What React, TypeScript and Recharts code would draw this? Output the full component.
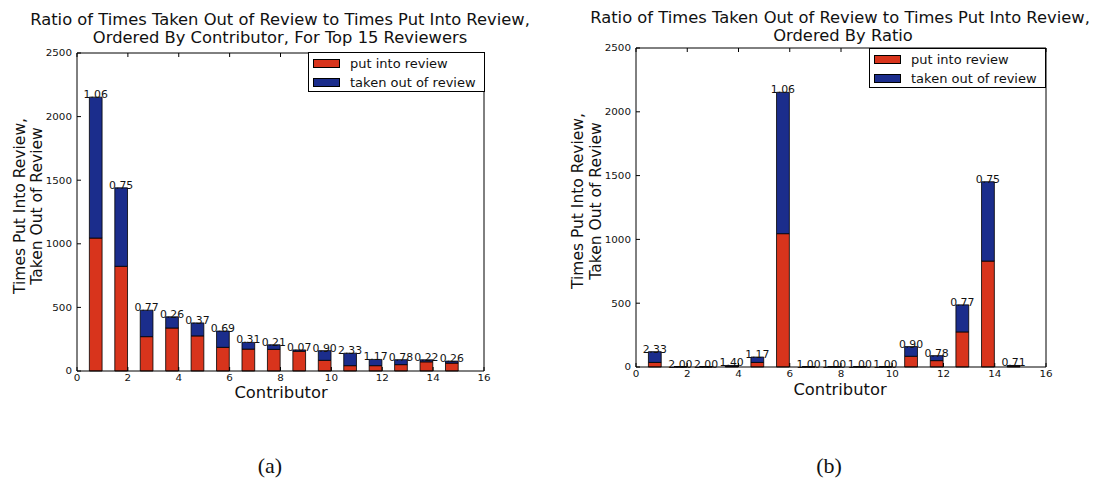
import React from 'react';
import { BarChart, Bar, XAxis, YAxis, LabelList, Legend } from 'recharts';

// Contributor index along the x axis (1..15)
const contributors = [1, 2, 3, 4, 5, 6, 7, 8, 9, 10, 11, 12, 13, 14, 15];

// (a) ordered by contributor, top 15 reviewers
const putIntoReviewA = [1045, 823, 270, 338, 276, 186, 172, 170, 155, 84, 42, 42, 50, 72, 62];
const takenOutOfReviewA = [1108, 617, 208, 88, 102, 128, 53, 36, 11, 76, 98, 49, 39, 16, 16];

// (b) ordered by ratio
const putIntoReviewB = [36, 1, 1, 5, 36, 1045, 1, 1, 1, 1, 84, 50, 275, 830, 7];
const takenOutOfReviewB = [84, 2, 2, 7, 42, 1108, 1, 1, 1, 1, 76, 39, 212, 622, 5];

const xTicks = [0, 2, 4, 6, 8, 10, 12, 14, 16];
const yTicks = [0, 500, 1000, 1500, 2000, 2500];

const seriesNames = ['put into review', 'taken out of review'];
const titleA = ['Ratio of Times Taken Out of Review to Times Put Into Review,', 'Ordered By Contributor, For Top 15 Reviewers'];
const titleB = ['Ratio of Times Taken Out of Review to Times Put Into Review,', 'Ordered By Ratio'];
const yLabelLines = ['Times Put Into Review,', 'Taken Out of Review'];
const xLabel = 'Contributor';
const captions = ['(a)', '(b)'];

const RED = '#d8341c';
const BLUE = '#1b2d8c';
const INK = '#111';
const FONT = '"DejaVu Sans", Verdana, sans-serif';
const SERIF = '"Liberation Serif", "DejaVu Serif", serif';
const TICK_LEN = 4;
const STRETCH = 1.09;

// Bars span [i - 0.5, i] on the contributor axis, so their centre sits at i - 0.25
function buildRows(put: number[], taken: number[]) {
  return contributors.map((c, i) => ({
    pos: c - 0.25,
    put: put[i],
    taken: taken[i],
    ratio: (taken[i] / put[i]).toFixed(2),
  }));
}

// Text drawn slightly wider than the font's natural width
function WideText({ x, y, size, children }: { x: number; y: number; size: number; children: React.ReactNode }) {
  return (
    <text transform={`translate(${x} ${y}) scale(${STRETCH} 1)`} x={0} y={0} textAnchor="middle" fontSize={size}>
      {children}
    </text>
  );
}

const BottomTick = (props: any) => {
  const { x, y, payload } = props;
  const axisY = y - 2;
  return (
    <g>
      <line x1={x} x2={x} y1={axisY} y2={axisY - TICK_LEN} stroke="#000" strokeWidth={1} />
      <text
        transform={`translate(${x} ${y + 8}) scale(${STRETCH} 1)`}
        textAnchor="middle"
        fontSize={9.5}
        fontFamily={FONT}
        fill={INK}
      >
        {payload.value}
      </text>
    </g>
  );
};

const LeftTick = (props: any) => {
  const { x, y, payload } = props;
  const axisX = x + 5;
  return (
    <g>
      <line x1={axisX} x2={axisX + TICK_LEN} y1={y} y2={y} stroke="#000" strokeWidth={1} />
      <text
        transform={`translate(${x} ${y + 3.3}) scale(${STRETCH} 1)`}
        textAnchor="end"
        fontSize={9.5}
        fontFamily={FONT}
        fill={INK}
      >
        {payload.value}
      </text>
    </g>
  );
};

const TopTick = (props: any) => {
  const { x, y } = props;
  return <line x1={x} x2={x} y1={y} y2={y + TICK_LEN} stroke="#000" strokeWidth={1} />;
};

const RightTick = (props: any) => {
  const { x, y } = props;
  return <line x1={x} x2={x - TICK_LEN} y1={y} y2={y} stroke="#000" strokeWidth={1} />;
};

const RatioLabel = (props: any) => {
  const { x, y, width, value } = props;
  const cx = Number(x) + Number(width) / 2;
  const cy = Number(y) + 1;
  return (
    <text
      transform={`translate(${cx} ${cy}) scale(${STRETCH} 1)`}
      textAnchor="middle"
      fontSize={10}
      fontFamily={FONT}
      fill={INK}
    >
      {value}
    </text>
  );
};

const LegendBox = (props: any) => {
  const items = (props.payload || []) as any[];
  return (
    <div
      style={{
        width: 177,
        height: 40,
        boxSizing: 'border-box',
        border: '1px solid #000',
        background: '#fff',
        paddingTop: 1,
        paddingLeft: 4,
        fontFamily: FONT,
        fontSize: 13,
        color: INK,
      }}
    >
      {items.map((it) => (
        <div key={it.value} style={{ display: 'flex', alignItems: 'center', height: 19, whiteSpace: 'nowrap' }}>
          <span
            style={{
              display: 'inline-block',
              flex: 'none',
              width: 27,
              height: 9,
              boxSizing: 'border-box',
              background: it.color,
              border: '1px solid #000',
              marginRight: 10,
            }}
          />
          <span>{it.value}</span>
        </div>
      ))}
    </div>
  );
};

type PanelProps = {
  put: number[];
  taken: number[];
  left: number;
  width: number;
  plotLeft: number;
  plotRight: number;
  plotTop: number;
  plotBottom: number;
  legendLeft: number;
  legendTop: number;
};

const CHART_H = 420;
const Y_AXIS_W = 40;
const X_AXIS_H = 20;

function Panel(p: PanelProps) {
  const rows = buildRows(p.put, p.taken);
  const plotW = p.plotRight - p.plotLeft;
  const barSize = (0.5 * plotW) / 16;
  const margin = {
    top: p.plotTop - 1,
    left: p.plotLeft - p.left - Y_AXIS_W,
    right: p.left + p.width - p.plotRight - 1,
    bottom: CHART_H - p.plotBottom - X_AXIS_H,
  };
  return (
    <div style={{ position: 'absolute', left: p.left, top: 0 }}>
      <BarChart width={p.width} height={CHART_H} data={rows} margin={margin}>
        <XAxis
          xAxisId="b"
          dataKey="pos"
          type="number"
          domain={[0, 16]}
          ticks={xTicks}
          interval={0}
          height={X_AXIS_H}
          tickSize={0}
          tickMargin={2}
          tickLine={false}
          axisLine={{ stroke: '#000', strokeWidth: 1 }}
          tick={<BottomTick />}
        />
        <XAxis
          xAxisId="t"
          orientation="top"
          dataKey="pos"
          type="number"
          domain={[0, 16]}
          ticks={xTicks}
          interval={0}
          height={1}
          tickSize={0}
          tickMargin={0}
          tickLine={false}
          axisLine={{ stroke: '#000', strokeWidth: 1 }}
          tick={<TopTick />}
        />
        <YAxis
          yAxisId="l"
          type="number"
          domain={[0, 2500]}
          ticks={yTicks}
          interval={0}
          width={Y_AXIS_W}
          tickSize={0}
          tickMargin={5}
          tickLine={false}
          axisLine={{ stroke: '#000', strokeWidth: 1 }}
          tick={<LeftTick />}
        />
        <YAxis
          yAxisId="r"
          orientation="right"
          type="number"
          domain={[0, 2500]}
          ticks={yTicks}
          interval={0}
          width={1}
          tickSize={0}
          tickMargin={0}
          tickLine={false}
          axisLine={{ stroke: '#000', strokeWidth: 1 }}
          tick={<RightTick />}
        />
        <Legend
          layout="horizontal"
          verticalAlign="middle"
          align="center"
          content={<LegendBox />}
          wrapperStyle={{ position: 'absolute', left: p.legendLeft - p.left, top: p.legendTop, width: 177 }}
        />
        <Bar
          xAxisId="b"
          yAxisId="l"
          dataKey="put"
          name={seriesNames[0]}
          stackId="s"
          fill={RED}
          stroke="#000"
          strokeWidth={0.8}
          barSize={barSize}
          isAnimationActive={false}
        />
        <Bar
          xAxisId="b"
          yAxisId="l"
          dataKey="taken"
          name={seriesNames[1]}
          stackId="s"
          fill={BLUE}
          stroke="#000"
          strokeWidth={0.8}
          barSize={barSize}
          isAnimationActive={false}
        >
          <LabelList dataKey="ratio" content={<RatioLabel />} />
        </Bar>
      </BarChart>
    </div>
  );
}

export default function App() {
  return (
    <div style={{ position: 'absolute', left: 0, top: 0, width: 1096, height: 482, background: '#fff', overflow: 'hidden' }}>
      <Panel
        put={putIntoReviewA}
        taken={takenOutOfReviewA}
        left={0}
        width={560}
        plotLeft={77}
        plotRight={484}
        plotTop={53}
        plotBottom={371}
        legendLeft={308}
        legendTop={52}
      />
      <Panel
        put={putIntoReviewB}
        taken={takenOutOfReviewB}
        left={560}
        width={536}
        plotLeft={636}
        plotRight={1046}
        plotTop={48}
        plotBottom={367}
        legendLeft={869}
        legendTop={48}
      />
      <svg
        width={1096}
        height={482}
        style={{ position: 'absolute', left: 0, top: 0, pointerEvents: 'none' }}
        fontFamily={FONT}
        fill={INK}
      >
        {/* panel titles */}
        <WideText x={280} y={25} size={15}>{titleA[0]}</WideText>
        <WideText x={280} y={43} size={15}>{titleA[1]}</WideText>
        <WideText x={840} y={23} size={15}>{titleB[0]}</WideText>
        <WideText x={843} y={41} size={15}>{titleB[1]}</WideText>

        {/* y axis labels */}
        <g transform="rotate(-90 20 206)">
          <text x={20} y={206} textAnchor="middle" dominantBaseline="central" fontSize={15.5}>{yLabelLines[0]}</text>
        </g>
        <g transform="rotate(-90 37 206)">
          <text x={37} y={206} textAnchor="middle" dominantBaseline="central" fontSize={15.5}>{yLabelLines[1]}</text>
        </g>
        <g transform="rotate(-90 578 201)">
          <text x={578} y={201} textAnchor="middle" dominantBaseline="central" fontSize={15.5}>{yLabelLines[0]}</text>
        </g>
        <g transform="rotate(-90 596 201)">
          <text x={596} y={201} textAnchor="middle" dominantBaseline="central" fontSize={15.5}>{yLabelLines[1]}</text>
        </g>

        {/* x axis labels */}
        <WideText x={281} y={398} size={15}>{xLabel}</WideText>
        <WideText x={840} y={395} size={15}>{xLabel}</WideText>

        {/* sub-figure captions */}
        <text x={270} y={473} textAnchor="middle" fontSize={22} fontFamily={SERIF}>{captions[0]}</text>
        <text x={829} y={473} textAnchor="middle" fontSize={22} fontFamily={SERIF}>{captions[1]}</text>
      </svg>
    </div>
  );
}
